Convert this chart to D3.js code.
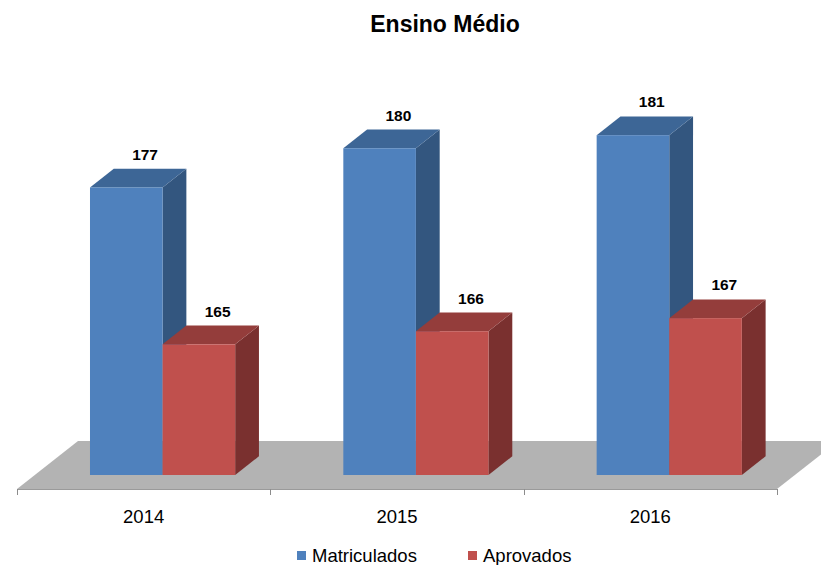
<!DOCTYPE html>
<html>
<head>
<meta charset="utf-8">
<script src="https://cdn.jsdelivr.net/npm/d3@7"></script>
<style>
body { margin: 0; background: #fff; }
text { font-family: "Liberation Sans", Arial, sans-serif; }
</style>
</head>
<body>
<svg></svg>
<script>
var screen = {width: 821, height: 565};

// data
var years = ["2014", "2015", "2016"];
var series = ["Matriculados", "Aprovados"];
var matriculados = [177, 180, 181];
var aprovados = [165, 166, 167];

var colors = {
    Matriculados: {front: "#4F81BD", top: "#3D6696", side: "#33567F"},
    Aprovados: {front: "#C0504D", top: "#943D3B", side: "#7A302F"}
};

var svg = d3.select("svg")
    .attr("width", screen.width)
    .attr("height", screen.height);

// floor geometry (front edge + depth)
var floor = {left: 17, right: 777, y: 489, dx: 61, dy: -48};
var barFront = 0.31, barBack = 0.70;

var xScale = d3.scaleBand()
    .domain(years)
    .range([floor.left, floor.right]);

var sScale = d3.scaleBand()
    .domain(series)
    .range([0, xScale.bandwidth()])
    .paddingOuter(0.745);

var yScale = d3.scaleLinear()
    .domain([155, 185])
    .range([475, 475 - 30 * 13.07]);

// floor
var f = floor;
svg.append("polygon")
    .attr("points", [[f.left, f.y], [f.right, f.y], [f.right + f.dx, f.y + f.dy], [f.left + f.dx, f.y + f.dy]].join(" "))
    .attr("fill", "#B3B3B3");

svg.append("line")
    .attr("x1", f.left).attr("x2", f.right)
    .attr("y1", f.y + 0.5).attr("y2", f.y + 0.5)
    .attr("stroke", "#9a9a9a")
    .attr("stroke-width", 1);

var ticks = xScale.domain().map(function(d) { return xScale(d); }).concat([floor.right]);
svg.selectAll(".tick")
    .data(ticks)
    .enter()
    .append("line")
    .attr("class", "tick")
    .attr("x1", function(d) { return Math.round(d) + 0.5; })
    .attr("x2", function(d) { return Math.round(d) + 0.5; })
    .attr("y1", f.y)
    .attr("y2", f.y + 6)
    .attr("stroke", "#8c8c8c");

// bars
var rows = [];
years.forEach(function(y, i) {
    rows.push({year: y, name: "Matriculados", value: matriculados[i]});
    rows.push({year: y, name: "Aprovados", value: aprovados[i]});
});

var ox = f.dx * barFront;
var ddx = f.dx * (barBack - barFront), ddy = f.dy * (barBack - barFront);

var bars = svg.append("g").attr("id", "bars");

rows.forEach(function(d) {
    var x0 = xScale(d.year) + sScale(d.name) + ox;
    var w = sScale.bandwidth();
    var y0 = yScale(155);
    var y1 = yScale(d.value);
    var c = colors[d.name];
    var g = bars.append("g");

    g.append("polygon")
        .attr("points", [[x0 + w, y1], [x0 + w + ddx, y1 + ddy], [x0 + w + ddx, y0 + ddy], [x0 + w, y0]].join(" "))
        .attr("fill", c.side);
    g.append("polygon")
        .attr("points", [[x0, y1], [x0 + w, y1], [x0 + w + ddx, y1 + ddy], [x0 + ddx, y1 + ddy]].join(" "))
        .attr("fill", c.top);
    g.append("rect")
        .attr("x", x0)
        .attr("y", y1)
        .attr("width", w)
        .attr("height", y0 - y1)
        .attr("fill", c.front);

    g.append("text")
        .attr("x", x0 + w / 2 + ddx - 5)
        .attr("y", y1 + ddy - 9)
        .attr("text-anchor", "middle")
        .style("font-size", "15.5px")
        .style("font-weight", "bold")
        .text(d.value);
});

// category labels
svg.selectAll(".year")
    .data(years)
    .enter()
    .append("text")
    .attr("class", "year")
    .attr("x", function(d) { return xScale(d) + xScale.bandwidth() / 2; })
    .attr("y", 523)
    .attr("text-anchor", "middle")
    .style("font-size", "18.5px")
    .text(function(d) { return d; });

// title
svg.append("text")
    .attr("x", 445)
    .attr("y", 32)
    .attr("text-anchor", "middle")
    .style("font-size", "23px")
    .style("font-weight", "bold")
    .text("Ensino Médio");

// legend
var legendX = [297, 468];
var lg = svg.append("g").attr("id", "legend")
    .selectAll("g")
    .data(series)
    .enter()
    .append("g")
    .attr("transform", function(d, i) { return "translate(" + legendX[i] + ",551)"; });

lg.append("rect")
    .attr("width", 9)
    .attr("height", 9)
    .attr("fill", function(d) { return colors[d].front; });

lg.append("text")
    .attr("x", 15)
    .attr("y", 11)
    .style("font-size", "18.5px")
    .text(function(d) { return d; });
</script>
</body>
</html>
